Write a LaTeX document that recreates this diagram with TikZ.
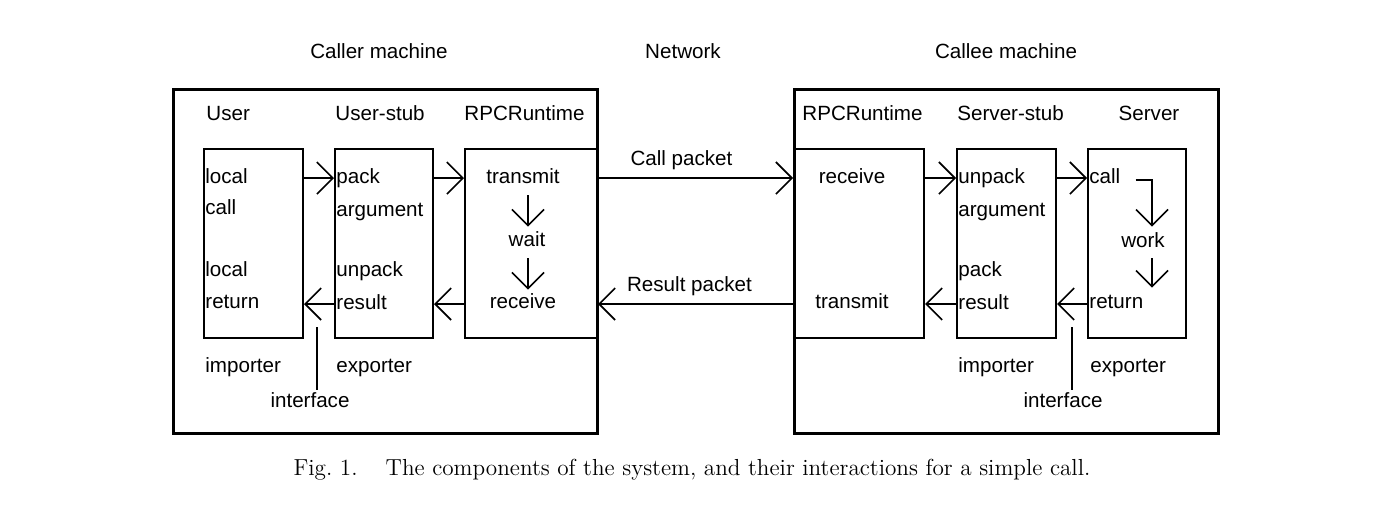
\documentclass[tikz,border=0pt]{standalone}
\usepackage{fontspec}
\setsansfont{Liberation Sans}
\usetikzlibrary{arrows.meta,positioning}

\begin{document}
\begin{tikzpicture}[x=0.5pt, y=-0.5pt,
    machine/.style={draw, line width=1.5pt, anchor=north west, inner sep=0pt,
      minimum width=212pt, minimum height=172pt},
    part/.style={draw, line width=1pt, anchor=north west, inner sep=0pt,
      minimum height=94.5pt},
    lbl/.style={font=\sffamily\fontsize{10.3}{12}\selectfont, inner sep=1pt,
      text height=7.5pt, text depth=2pt},
    head/.style={lbl, anchor=west},
    entry/.style={lbl, anchor=west},
    caption/.style={font=\fontsize{11.6}{13}\selectfont, inner sep=0pt},
    flow/.style={-{Straight Barb[length=8pt,width=16pt]}, line width=0.8pt},
    link/.style={line width=0.8pt}]
  \useasboundingbox (0,0) rectangle (1384,521);

  % machines
  \node[machine] (caller) at (172,88) {};
  \node[machine] (callee) at (793,88) {};
  \node[lbl] (callert) at (379,53) {Caller machine};
  \node[lbl] (nett) at (683,53) {Network};
  \node[lbl] (calleet) at (1006,53) {Callee machine};

  % components
  \node[part, minimum width=49.5pt] (user) at (203,148) {};
  \node[part, minimum width=49pt] (ustub) at (334,148) {};
  \node[part, minimum width=66pt] (lrt) at (464,148) {};
  \node[part, minimum width=65pt] (rrt) at (793,148) {};
  \node[part, minimum width=49.5pt] (sstub) at (956,148) {};
  \node[part, minimum width=49pt] (server) at (1087,148) {};

  \node[head] (usert) at (204,115) {User};
  \node[head] (ustubt) at (333,115) {User-stub};
  \node[head] (lrtt) at (462,115) {RPCRuntime};
  \node[head] (rrtt) at (800,115) {RPCRuntime};
  \node[head] (sstubt) at (955,115) {Server-stub};
  \node[lbl] (servert) at (1149,115) {Server};

  % caller side
  \node[entry] (ulocal) at (203,178) {local};
  \node[entry] (ucall) at (203,209) {call};
  \node[entry] (ulocalr) at (203,271) {local};
  \node[entry] (uret) at (203,303) {return};
  \node[entry] (upack) at (334,178) {pack};
  \node[entry] (uarg) at (334,211) {argument};
  \node[entry] (uunpack) at (334,271) {unpack};
  \node[entry] (ures) at (334,304) {result};
  \node[lbl] (ltx) at (523,178) {transmit};
  \node[lbl] (lwait) at (527,241) {wait};
  \node[lbl] (lrx) at (523,303) {receive};
  \node[entry] (uimp) at (203,367) {importer};
  \node[entry] (uexp) at (334,367) {exporter};
  \coordinate (uif) at (317,327);
  \node[lbl] (uift) at (310,402) {interface};

  % callee side
  \node[lbl] (rrx) at (852,178) {receive};
  \node[lbl] (rtx) at (852,303) {transmit};
  \node[entry] (sunpack) at (956,178) {unpack};
  \node[entry] (sarg) at (956,211) {argument};
  \node[entry] (spack) at (956,271) {pack};
  \node[entry] (sres) at (956,304) {result};
  \node[entry] (scall) at (1087,178) {call};
  \node[lbl] (swork) at (1143,242) {work};
  \node[entry] (sret) at (1087,303) {return};
  \node[entry] (simp) at (956,367) {importer};
  \node[entry] (sexp) at (1088,367) {exporter};
  \coordinate (sif) at (1072,327);
  \node[lbl] (sift) at (1063,402) {interface};

  % calls
  \draw[flow] (user.east |- ulocal) -- (ustub.west |- ulocal);
  \draw[flow] (ustub.east |- ulocal) -- (lrt.west |- ulocal);
  \draw[flow] (ustub.west |- ures) -- (user.east |- ures);
  \draw[flow] (lrt.west |- ures) -- (ustub.east |- ures);
  \draw[flow] ([xshift=2.5pt,yshift=-2.75pt]ltx.south) -- ([xshift=0.5pt,yshift=1.25pt]lwait.north);
  \draw[flow] ([xshift=0.5pt,yshift=-2.75pt]lwait.south) -- ([xshift=2.5pt,yshift=0.75pt]lrx.north);
  \draw[link] (uif) -- (uift.north -| uif);

  % network
  \draw[flow] (lrt.east |- ltx) -- node[lbl, above=3pt, xshift=-7pt] (callp) {Call packet} (rrt.west |- ltx);
  \draw[flow] (rrt.west |- ures) -- node[lbl, above=3pt, xshift=-3pt] (resp) {Result packet} (lrt.east |- ures);

  \draw[flow] (rrt.east |- sunpack) -- (sstub.west |- sunpack);
  \draw[flow] (sstub.east |- sunpack) -- (server.west |- sunpack);
  \draw[flow] (server.west |- sres) -- (sstub.east |- sres);
  \draw[flow] (sstub.west |- sres) -- (rrt.east |- sres);
  \draw[flow] ([xshift=6.5pt,yshift=-1pt]scall.east) -| ([xshift=4.5pt,yshift=1.75pt]swork.north);
  \draw[flow] ([xshift=4.5pt,yshift=-2.25pt]swork.south) -- ([xshift=4.5pt,yshift=1.75pt]swork.south |- sret.north);
  \draw[link] (sif) -- (sift.north -| sif);

  \node[caption] (cap) at (692,470) {Fig.~1.\hspace{14pt}The components of the system, and their interactions for a simple call.};
\end{tikzpicture}
\end{document}
